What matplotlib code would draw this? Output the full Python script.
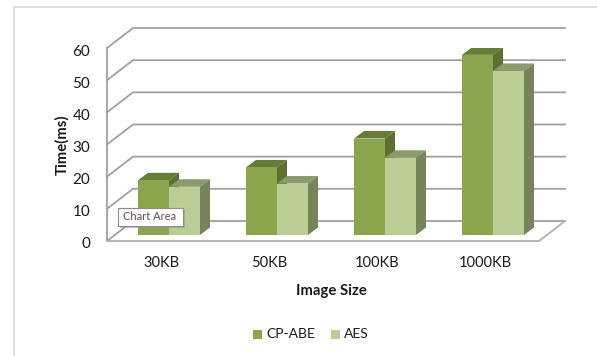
"""Grouped pseudo-3D bar chart of encryption time by image size."""

import matplotlib
matplotlib.use("Agg")
import matplotlib.pyplot as plt
from matplotlib.patches import Polygon, Rectangle
from matplotlib.transforms import ScaledTranslation

categories = ["30KB", "50KB", "100KB", "1000KB"]
cp_abe = [17, 21, 30, 56]
aes = [15, 16, 24, 51]
y_ticks = [0, 10, 20, 30, 40, 50, 60]

W, H = 597, 356
# front plane of the plot box, in pixels from the top left
LEFT, RIGHT, BASE, TOP = 107, 539, 241, 48
PX_X = (RIGHT - LEFT) / len(categories)   # pixels per category
PX_Y = (BASE - TOP) / 60                  # pixels per ms

GRID = "#a0a0a0"
FONT = ["Lato", "DejaVu Sans"]
TEXT = "#1a1a1a"


def px(dx, dy):
    """Pixel offset to data units."""
    return dx / PX_X, dy / PX_Y


def box(ax, x, w, top, base, face, side, roof, depth):
    """One bar: front face plus the top and right faces."""
    ax.bar(x, top - base, w, bottom=base, align="edge", color=face, zorder=4)
    ddx, ddy = depth
    ax.add_patch(Polygon([(x, top), (x + w, top), (x + w + ddx, top + ddy), (x + ddx, top + ddy)],
                         closed=True, fc=roof, ec="none", zorder=3))
    ax.add_patch(Polygon([(x + w, base), (x + w, top), (x + w + ddx, top + ddy), (x + w + ddx, base + ddy)],
                         closed=True, fc=side, ec="none", zorder=3))


plt.rcParams["font.family"] = FONT
fig = plt.figure(figsize=(W / 100, H / 100), dpi=100)
fig.patches.append(Rectangle((14 / W, -0.1), 1.1, 1 - 7 / H + 0.1, transform=fig.transFigure,
                             fc="white", ec="#d4d4d4", lw=1.1, zorder=-1))

ax = fig.add_axes([LEFT / W, 1 - BASE / H, (RIGHT - LEFT) / W, (BASE - TOP) / H])
ax.patch.set_visible(False)
ax.set_xlim(-0.5, len(categories) - 0.5)
ax.set_ylim(0, 60)
for s in ax.spines.values():
    s.set_visible(False)

x0, x1 = ax.get_xlim()
back_x, back_y = px(26, 20)

# side wall and back wall gridlines
for v in y_ticks:
    ax.plot([x0, x0 + back_x, x1 + back_x], [v, v + back_y, v + back_y],
            color=GRID, lw=1.3, clip_on=False, zorder=1, solid_joinstyle="miter")
ax.plot([x0, x0], [0, 60], color=GRID, lw=1.3, clip_on=False, zorder=1)
# floor outline
ax.plot([x0, x1, x1 + back_x], [0, 0, back_y], color="#b4b4b4", lw=1.4, clip_on=False, zorder=1)

# bars stand a little behind the front edge of the floor
shift_x, shift_y = px(8, 6)
bar_w = 31 / PX_X
depth = px(10, 7.5)
for i, (a, b) in enumerate(zip(cp_abe, aes)):
    xa = i - bar_w + shift_x
    box(ax, xa, bar_w, a + shift_y, shift_y, "#8aa54e", "#5e7030", "#667d37", depth)
    box(ax, xa + bar_w, bar_w, b + shift_y, shift_y, "#bacd94", "#76845c", "#8a9b6c", depth)

ax.set_xticks(range(len(categories)), categories)
ax.set_yticks(y_ticks)
ax.tick_params(length=0, labelsize=10.5, labelcolor=TEXT)
ax.tick_params(axis="x", pad=11)
ax.tick_params(axis="y", pad=12, labelsize=11)
# nudge the value labels down a touch
for lab in ax.get_yticklabels():
    lab.set_transform(lab.get_transform() + ScaledTranslation(0, -2 / 100, fig.dpi_scale_trans))

fig.text(331 / W, 1 - 291 / H, "Image Size", ha="center", va="center",
         fontsize=10.7, fontweight="bold", color=TEXT)
fig.text(62 / W, 1 - 145 / H, "Time(ms)", rotation=90, ha="center", va="center",
         fontsize=10.7, fontweight="bold", color=TEXT)

# legend
for xp, label, col in [(253, "CP-ABE", "#8aa54e"), (331, "AES", "#bacd94")]:
    fig.patches.append(Rectangle((xp / W, 1 - 339 / H), 9 / W, 9 / H, transform=fig.transFigure,
                                 fc=col, ec="none"))
    fig.text((xp + 13) / W, 1 - 334.5 / H, label, ha="left", va="center", fontsize=10, color=TEXT)

# hover tooltip
fig.patches.append(Rectangle((120 / W, 1 - 228 / H), 65 / W, 18 / H, transform=fig.transFigure,
                             fc="#9a9a9a", ec="none", alpha=0.6, zorder=8))
fig.patches.append(Rectangle((118 / W, 1 - 226 / H), 65 / W, 18 / H, transform=fig.transFigure,
                             fc="white", ec="#8c8c8c", lw=0.8, zorder=9))
fig.text(150 / W, 1 - 217 / H, "Chart Area", ha="center", va="center",
         fontsize=8, color="#6a4a55", zorder=10)

fig.savefig("out.png", dpi=100)
plt.close(fig)
